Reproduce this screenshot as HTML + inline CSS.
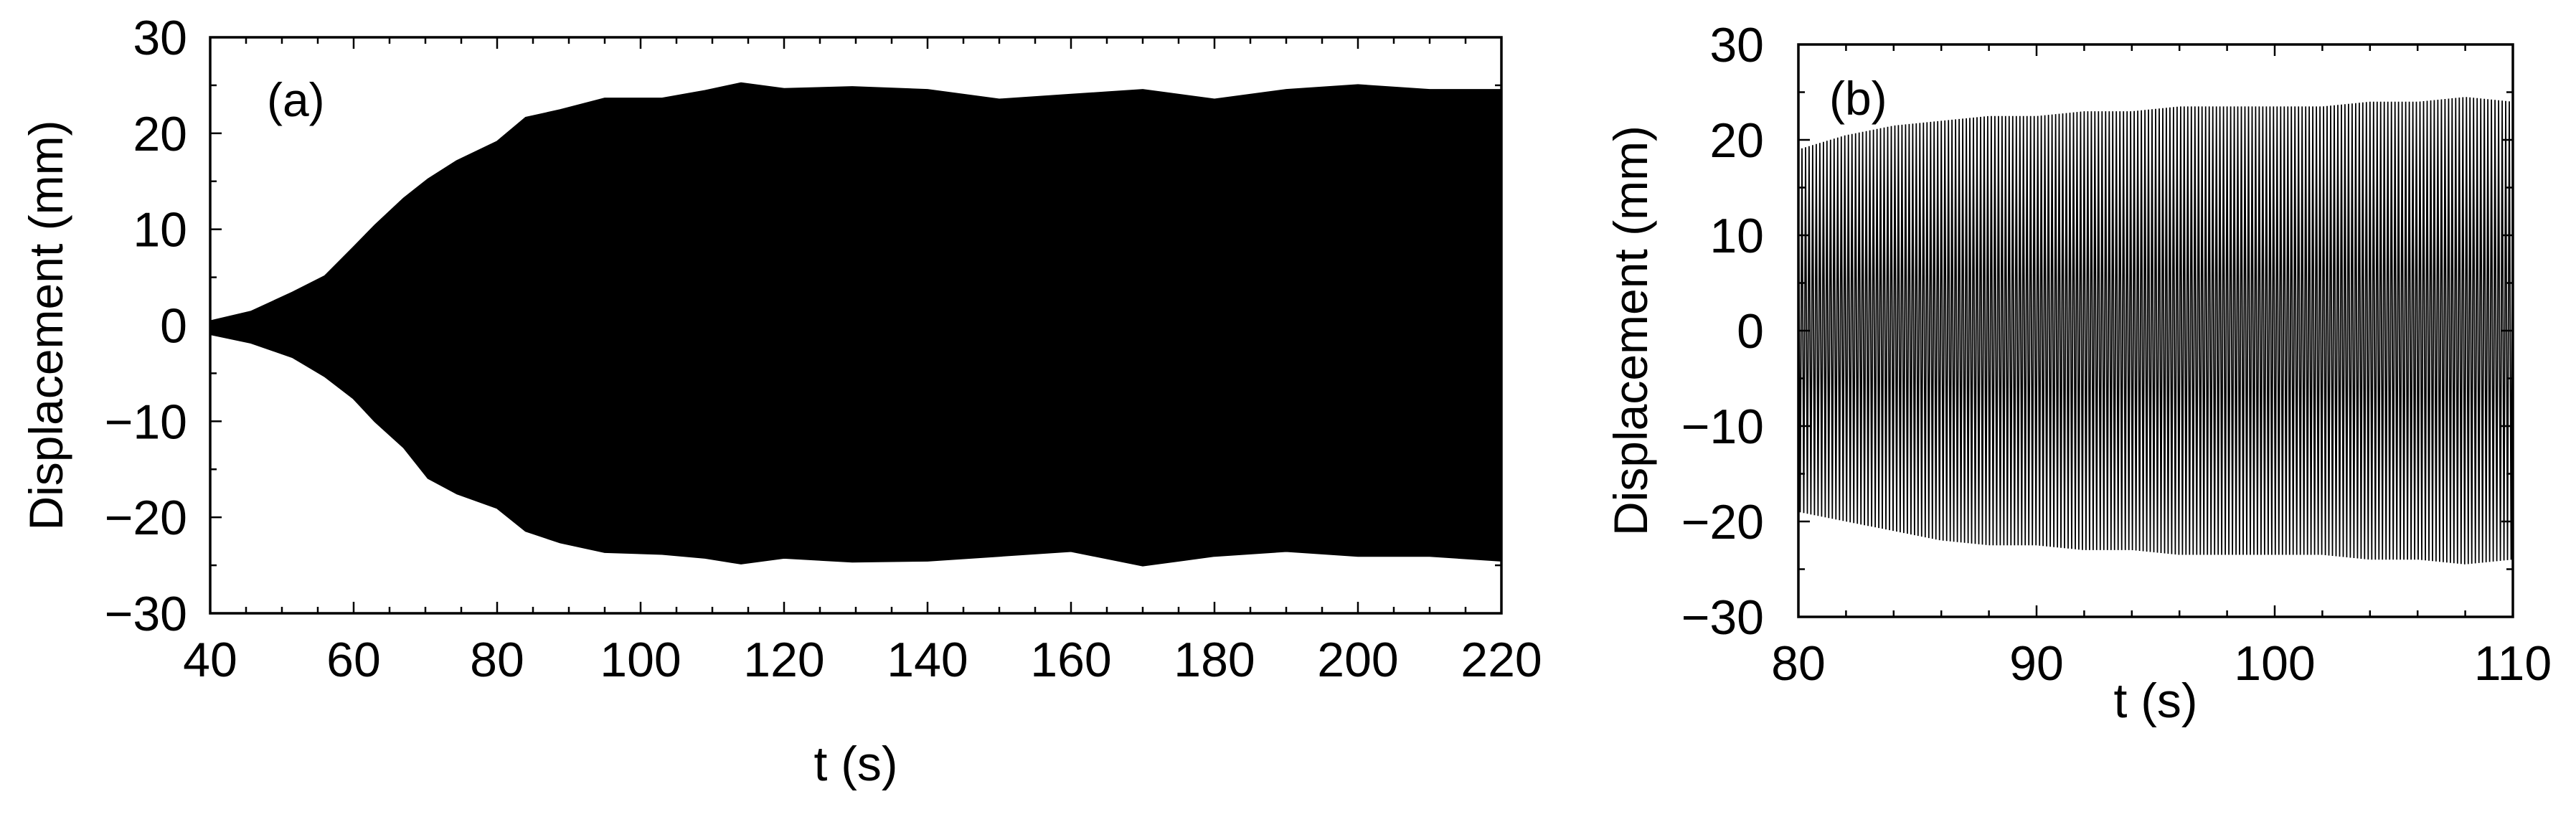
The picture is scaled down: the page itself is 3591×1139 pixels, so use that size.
<!DOCTYPE html>
<html><head><meta charset="utf-8"><style>
html,body{margin:0;padding:0;background:#fff}
svg{display:block}
text{font-family:"Liberation Sans",sans-serif;fill:#000}
</style></head><body>
<svg id="fig" width="3591" height="1139" viewBox="0 0 3591 1139" xmlns="http://www.w3.org/2000/svg">
<g id="pa"></g>
<g id="pb"></g>
</svg>
<script>
// Panel (a) envelope data
const aTimes = [40,45.7,51.5,56,60,63,67,70.4,74.4,80,84,88.8,95,103,109,114,120,129.5,140,150,160,170,180,190,200,210,220];
const aUpper = [0.4,1.4,3.4,5.1,8.1,10.4,13.2,15.2,17.1,19.1,21.6,22.4,23.6,23.6,24.4,25.2,24.6,24.8,24.5,23.5,24,24.5,23.5,24.5,25,24.5,24.5];
const aLower = [-0.9,-1.8,-3.3,-5.3,-7.6,-10,-12.7,-15.9,-17.5,-19,-21.4,-22.6,-23.6,-23.8,-24.2,-24.8,-24.2,-24.6,-24.5,-24,-23.5,-25,-24,-23.5,-24,-24,-24.5];
// Panel (b) envelope data
const bTimes = [80,82,84,86,88,90,92,94,96,98,100,102,104,106,108,110];
const bUpper = [19,20.5,21.5,22,22.5,22.5,23,23,23.5,23.5,23.5,23.5,24,24,24.5,24];
const bLower = [-19,-20,-21,-22,-22.5,-22.5,-23,-23,-23.5,-23.5,-23.5,-23.5,-24,-24,-24.5,-24];
const bHalfPeriod = 0.075;
const aXTicks = [40,60,80,100,120,140,160,180,200,220];
const bXTicks = [80,90,100,110];
const yTicks = [-30,-20,-10,0,10,20,30];

const NS="http://www.w3.org/2000/svg";
function mk(parent,tag,attrs){const e=document.createElementNS(NS,tag);for(const k in attrs)e.setAttribute(k,attrs[k]);parent.appendChild(e);return e;}
function interp(ts,vs,t){for(let i=0;i<ts.length-1;i++){if(t>=ts[i]&&t<=ts[i+1]){const f=(t-ts[i])/(ts[i+1]-ts[i]);return vs[i]+f*(vs[i+1]-vs[i]);}}return vs[vs.length-1];}

function axes(g,cfg){
  const {L,R,T,B,x0,x1,xMajor,xMinor,xTicks,name,labX,labY,tlab,tlabY,ylabOff,xlabDy}=cfg;
  const X=v=>L+(v-x0)/(x1-x0)*(R-L);
  const Y=v=>B-(v+30)/60*(B-T);
  // ticks
  for(let v=x0;v<=x1+1e-9;v+=xMinor){
    const maj=Math.abs(v/xMajor-Math.round(v/xMajor))<1e-6;const len=maj?16:9;
    const t1=mk(g,'line',{x1:X(v),x2:X(v),y1:B,y2:B-len,stroke:'#000','stroke-width':2.5});
    
    
    const t2=mk(g,'line',{x1:X(v),x2:X(v),y1:T,y2:T+len,stroke:'#000','stroke-width':2.5});
    
    
  }
  for(let v=-30;v<=30;v+=5){
    const maj=v%10===0;const len=maj?16:9;
    const t1=mk(g,'line',{x1:L,x2:L+len,y1:Y(v),y2:Y(v),stroke:'#000','stroke-width':2.5});
    
    
    const t2=mk(g,'line',{x1:R,x2:R-len,y1:Y(v),y2:Y(v),stroke:'#000','stroke-width':2.5});
    
    
  }
  const fr=mk(g,'rect',{x:L,y:T,width:R-L,height:B-T,fill:'none',stroke:'#000','stroke-width':3.5});
  
  
  xTicks.forEach(v=>{
    const t=mk(g,'text',{x:X(v),y:B+xlabDy,'text-anchor':'middle','font-size':68});
    t.textContent=v;
    
    
  });
  yTicks.forEach(v=>{
    const t=mk(g,'text',{x:L-ylabOff,y:Y(v)+24,'text-anchor':'end','font-size':68});
    t.textContent=v<0?'\u2212'+Math.abs(v):String(v);
    
    
  });
  const yl=mk(g,'text',{x:0,y:0,'text-anchor':'middle','font-size':66,transform:`translate(${labX},${(T+B)/2}) rotate(-90)`,'dominant-baseline':'central'});
  yl.textContent='Displacement (mm)';
  
  
  const xl=mk(g,'text',{x:(L+R)/2,y:tlabY,'text-anchor':'middle','font-size':68});
  xl.textContent='t (s)';
  
  
  const pl=mk(g,'text',{x:labX+0,y:0,'font-size':66});
  pl.setAttribute('x',cfg.pX);pl.setAttribute('y',cfg.pY);
  pl.textContent=name;
  
  
  return {X,Y};
}

// Panel A
const ga=document.getElementById('pa');
const A={L:293,R:2093,T:52,B:855,x0:40,x1:220,xMajor:20,xMinor:5,xTicks:aXTicks,name:'(a)',labX:64,tlabY:1088,ylabOff:32,xlabDy:88,pX:372,pY:162};
{
  const X=v=>A.L+(v-A.x0)/(A.x1-A.x0)*(A.R-A.L);
  const Y=v=>A.B-(v+30)/60*(A.B-A.T);
  let pts=[];
  aTimes.forEach((t,i)=>pts.push(X(t)+','+Y(aUpper[i])));
  for(let i=aTimes.length-1;i>=0;i--)pts.push(X(aTimes[i])+','+Y(aLower[i]));
  const p=mk(ga,'polygon',{points:pts.join(' '),fill:'#000',stroke:'#000','stroke-width':3});
  
  
}
axes(ga,A);

// Panel B
const gb=document.getElementById('pb');
const Bc={L:2507,R:3503,T:62,B:860,x0:80,x1:110,xMajor:10,xMinor:2,xTicks:bXTicks,name:'(b)',labX:2273,tlabY:1000,ylabOff:48,xlabDy:88,pX:2550,pY:160};
{
  const X=v=>Bc.L+(v-Bc.x0)/(Bc.x1-Bc.x0)*(Bc.R-Bc.L);
  const Y=v=>Bc.B-(v+30)/60*(Bc.B-Bc.T);
  let pts=[];let k=0;
  for(let t=Bc.x0;t<=Bc.x1+1e-9;t+=bHalfPeriod,k++){
    const v=(k%2===0)?interp(bTimes,bUpper,t):interp(bTimes,bLower,t);
    pts.push(X(t).toFixed(1)+','+Y(v).toFixed(1));
  }
  const p=mk(gb,'polyline',{points:pts.join(' '),fill:'none',stroke:'#000','stroke-width':1.8});
  
  
}
axes(gb,Bc);
</script>
</body></html>
